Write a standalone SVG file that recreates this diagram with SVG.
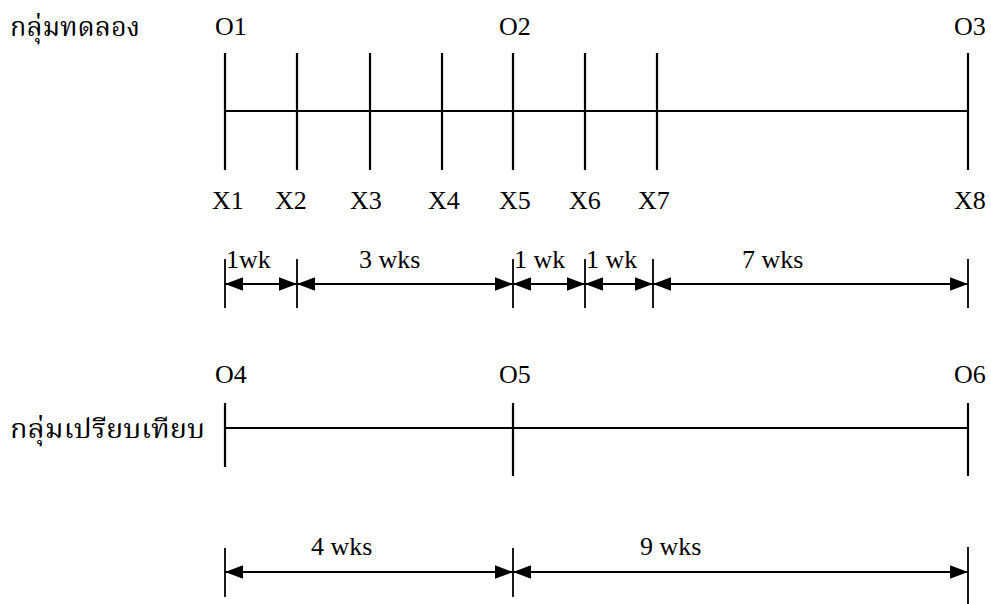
<svg xmlns="http://www.w3.org/2000/svg" width="991" height="604" viewBox="0 0 991 604">
<style>
.t{font-family:"Liberation Serif","Noto Serif Thai","Noto Sans Thai","DejaVu Serif",serif;font-size:26px;fill:#000}
.th{font-family:"Noto Serif Thai","Liberation Serif","Noto Sans Thai",serif;font-size:27px;fill:#000}
.ln{stroke:#000;stroke-width:2.2;fill:none}
.dm{stroke:#000;stroke-width:1.8;fill:none}
.ar{stroke:#000;stroke-width:1.8;fill:none;marker-start:url(#ah);marker-end:url(#ah)}
</style>
<defs>
<marker id="ah" markerUnits="userSpaceOnUse" markerWidth="18" markerHeight="14" refX="16" refY="6" orient="auto-start-reverse" viewBox="0 0 16 12">
<path d="M0,0 L16,6 L0,12 Z" fill="#000"/>
</marker>
</defs>
<rect width="991" height="604" fill="#fff"/>

<g id="experimental-group">
<text class="th" x="10" y="36" textLength="130" lengthAdjust="spacingAndGlyphs">กลุ่มทดลอง</text>
<text class="t" x="215" y="35">O1</text>
<text class="t" x="499" y="35">O2</text>
<text class="t" x="954" y="35">O3</text>
<line class="ln" x1="225" y1="111" x2="968" y2="111"/>
<line class="ln" x1="225" y1="53" x2="225" y2="170"/>
<line class="ln" x1="297" y1="53" x2="297" y2="170"/>
<line class="ln" x1="370" y1="53" x2="370" y2="170"/>
<line class="ln" x1="442" y1="53" x2="442" y2="170"/>
<line class="ln" x1="513" y1="53" x2="513" y2="170"/>
<line class="ln" x1="585" y1="53" x2="585" y2="170"/>
<line class="ln" x1="657" y1="53" x2="657" y2="170"/>
<line class="ln" x1="968" y1="53" x2="968" y2="170"/>
<text class="t" x="212" y="209">X1</text>
<text class="t" x="275" y="209">X2</text>
<text class="t" x="350" y="209">X3</text>
<text class="t" x="428" y="209">X4</text>
<text class="t" x="499" y="209">X5</text>
<text class="t" x="569" y="209">X6</text>
<text class="t" x="638" y="209">X7</text>
<text class="t" x="954" y="209">X8</text>
</g>

<g id="experimental-durations">
<line class="dm" x1="225" y1="259" x2="225" y2="308"/>
<line class="dm" x1="297" y1="259" x2="297" y2="308"/>
<line class="dm" x1="513" y1="259" x2="513" y2="308"/>
<line class="dm" x1="585" y1="259" x2="585" y2="308"/>
<line class="dm" x1="653" y1="259" x2="653" y2="308"/>
<line class="dm" x1="968" y1="259" x2="968" y2="308"/>
<text class="t" x="226" y="268">1wk</text>
<text class="t" x="359" y="268">3 wks</text>
<text class="t" x="514" y="268">1 wk</text>
<text class="t" x="586" y="268">1 wk</text>
<text class="t" x="742" y="268">7 wks</text>
</g>

<g id="control-group">
<text class="th" x="10" y="438" textLength="195" lengthAdjust="spacingAndGlyphs">กลุ่มเปรียบเทียบ</text>
<text class="t" x="215" y="383">O4</text>
<text class="t" x="499" y="383">O5</text>
<text class="t" x="954" y="383">O6</text>
<line class="ln" x1="225" y1="428" x2="968" y2="428"/>
<line class="ln" x1="225" y1="403" x2="225" y2="467"/>
<line class="ln" x1="513" y1="403" x2="513" y2="476"/>
<line class="ln" x1="968" y1="403" x2="968" y2="476"/>
</g>

<g id="control-durations">
<line class="dm" x1="225" y1="548" x2="225" y2="597"/>
<line class="dm" x1="513" y1="548" x2="513" y2="597"/>
<line class="dm" x1="968" y1="547" x2="968" y2="604"/>
<text class="t" x="311" y="555">4 wks</text>
<text class="t" x="640" y="555">9 wks</text>
</g>

<g id="connectors">
<line class="ar" x1="225" y1="284" x2="297" y2="284"/>
<line class="ar" x1="297" y1="284" x2="513" y2="284"/>
<line class="ar" x1="513" y1="284" x2="585" y2="284"/>
<line class="ar" x1="585" y1="284" x2="653" y2="284"/>
<line class="ar" x1="653" y1="284" x2="968" y2="284"/>
<line class="ar" x1="225" y1="572" x2="513" y2="572"/>
<line class="ar" x1="513" y1="572" x2="968" y2="572"/>
</g>
</svg>
